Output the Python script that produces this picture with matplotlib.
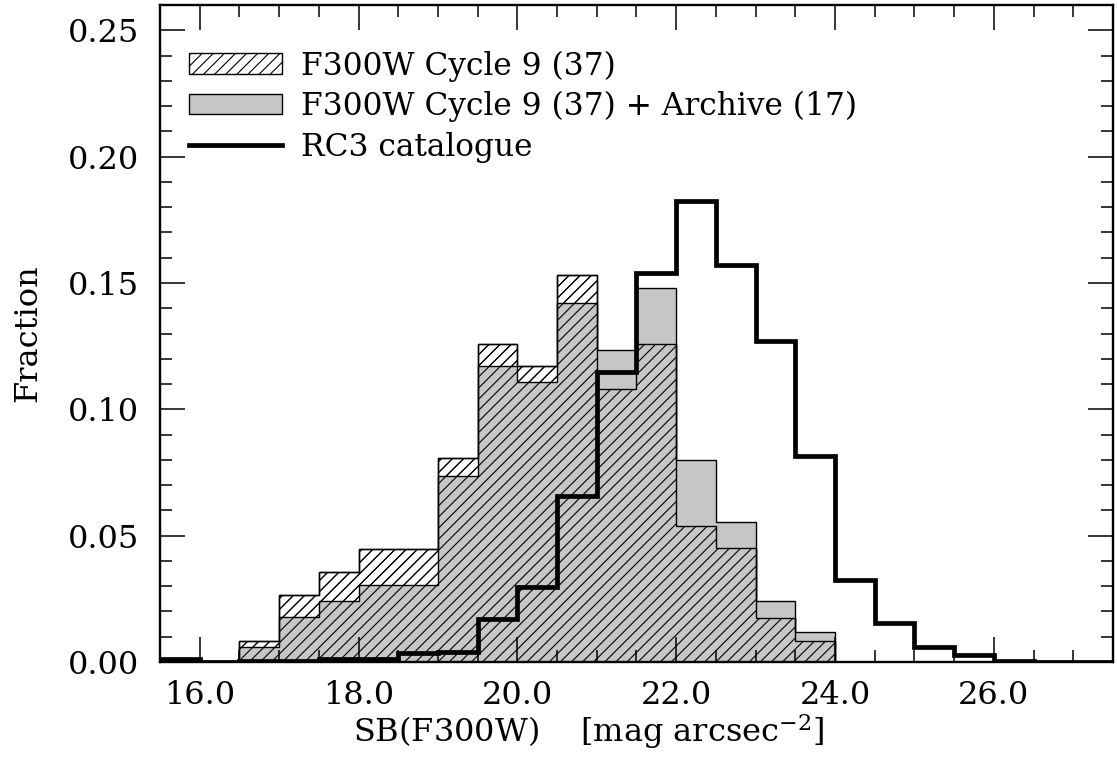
import numpy as np
import matplotlib
matplotlib.use("Agg")
import matplotlib.pyplot as plt
from matplotlib.patches import Patch
from matplotlib.lines import Line2D
from matplotlib.ticker import MultipleLocator, FormatStrFormatter

plt.rcParams['font.family'] = ['DejaVu Serif']
plt.rcParams['mathtext.fontset'] = 'dejavuserif'
plt.rcParams['hatch.linewidth'] = 0.8

# bin edges, 0.5 mag wide
bin_edges = [15.5, 16.0, 16.5, 17.0, 17.5, 18.0, 18.5, 19.0, 19.5, 20.0,
             20.5, 21.0, 21.5, 22.0, 22.5, 23.0, 23.5, 24.0, 24.5, 25.0,
             25.5, 26.0, 26.5, 27.0, 27.5]

# F300W Cycle 9 (37)
cycle9 = [0.0, 0.0, 0.0085, 0.0267, 0.0357, 0.0447, 0.0447, 0.0808, 0.126, 0.117,
          0.153, 0.108, 0.126, 0.054, 0.045, 0.0175, 0.0085, 0.0, 0.0, 0.0,
          0.0, 0.0, 0.0, 0.0]

# F300W Cycle 9 (37) + Archive (17)
combined = [0.0, 0.0, 0.006, 0.018, 0.024, 0.0305, 0.0305, 0.0738, 0.117, 0.111,
            0.142, 0.1235, 0.148, 0.080, 0.0555, 0.024, 0.012, 0.0, 0.0, 0.0,
            0.0, 0.0, 0.0, 0.0]

# RC3 catalogue
rc3 = [0.001, 0.0002, 0.0004, 0.0005, 0.001, 0.0012, 0.0035, 0.004, 0.017, 0.0295,
       0.0655, 0.1147, 0.1538, 0.1825, 0.157, 0.127, 0.0815, 0.0325, 0.0156, 0.0058,
       0.0029, 0.0004, 0.0002, 0.0002]

labels = ["F300W Cycle 9 (37)",
          "F300W Cycle 9 (37) + Archive (17)",
          "RC3 catalogue"]

gray = '#c6c6c6'

fig = plt.figure(figsize=(11.17, 7.68), dpi=100)
ax = fig.add_axes([0.1432, 0.138, 0.8532, 0.8555])

# hatched histogram (white background)
ax.stairs(cycle9, bin_edges, fill=True, facecolor='white', edgecolor='black',
          hatch='///', linewidth=1.0, zorder=1)
# grey histogram
ax.stairs(combined, bin_edges, fill=True, facecolor=gray, edgecolor='black',
          linewidth=1.0, zorder=2)
# hatching again on top of the grey
ax.stairs(cycle9, bin_edges, fill=True, facecolor='none', edgecolor='black',
          hatch='///', linewidth=1.0, zorder=3)
# RC3 thick line
ax.stairs(rc3, bin_edges, fill=False, color='black', linewidth=3.4,
          baseline=None, zorder=4)

ax.set_xlim(15.5, 27.5)
ax.set_ylim(0, 0.26)

ax.xaxis.set_major_locator(MultipleLocator(2.0))
ax.xaxis.set_minor_locator(MultipleLocator(0.5))
ax.yaxis.set_major_locator(MultipleLocator(0.05))
ax.yaxis.set_minor_locator(MultipleLocator(0.01))
ax.xaxis.set_major_formatter(FormatStrFormatter('%.1f'))
ax.yaxis.set_major_formatter(FormatStrFormatter('%.2f'))

ax.set_axisbelow(False)
ax.tick_params(which='both', direction='in', top=True, right=True, width=1.1,
               labelsize=23)
ax.tick_params(which='major', length=18, pad=15)
ax.tick_params(axis='x', which='major', pad=13)
ax.tick_params(which='minor', length=8.5)
for s in ax.spines.values():
    s.set_linewidth(1.7)
    s.set_zorder(5)

ax.set_xlabel(r'SB(F300W)    [mag arcsec$^{-2}$]', fontsize=23)
ax.xaxis.set_label_coords(0.45, -0.076)
ax.set_ylabel('Fraction', fontsize=23)
ax.yaxis.set_label_coords(-0.122, 0.5)

handles = [Patch(facecolor='white', edgecolor='black', hatch='///', linewidth=1.0),
           Patch(facecolor=gray, edgecolor='black', linewidth=1.0),
           Line2D([0], [0], color='black', linewidth=3.4)]
ax.legend(handles, labels, loc='upper left', frameon=False, fontsize=22.5,
          handlelength=3.0, handleheight=0.62, handletextpad=0.6,
          labelspacing=0.3, borderaxespad=0.0, bbox_to_anchor=(0.017, 0.95))

fig.savefig('out.png', dpi=100)
